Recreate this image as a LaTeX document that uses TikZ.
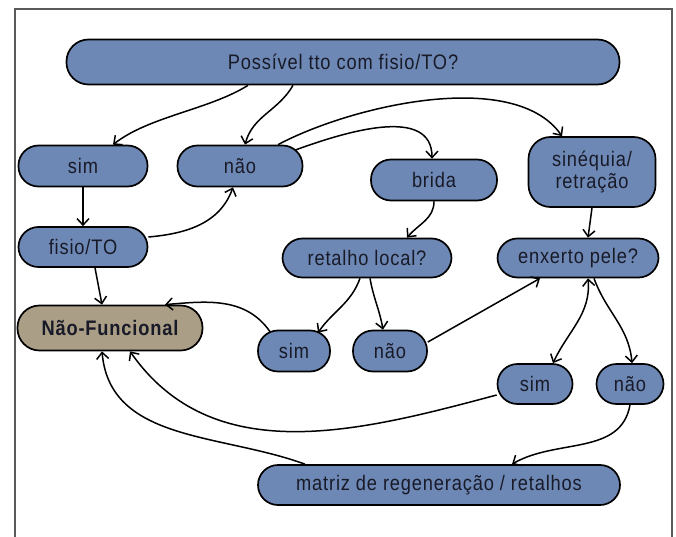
\documentclass[tikz,border=0pt]{standalone}
\usepackage{fontspec}
\setmainfont{Liberation Sans}[FakeStretch=0.87,LetterSpace=4]
\usetikzlibrary{arrows.meta}
\definecolor{boxblue}{RGB}{110,136,181}
\definecolor{boxtan}{RGB}{170,158,134}
\definecolor{txt}{RGB}{24,26,40}
\definecolor{framegray}{RGB}{90,90,90}
\tikzset{
  pill/.style={draw=black, line width=1.7pt, fill=boxblue, rounded corners=20pt,
    minimum height=41pt, inner sep=0pt, text=txt, font=\fontsize{21}{23}\selectfont},
  endbox/.style={pill, fill=boxtan, font=\fontsize{21}{23}\selectfont\bfseries},
  tip/.style={},
  link/.style={line width=1.5pt, -{Straight Barb[length=6.5pt,width=12pt,line width=1.5pt]}},
  twolink/.style={line width=1.5pt, {Straight Barb[length=6.5pt,width=12pt,line width=1.5pt]}-{Straight Barb[length=6.5pt,width=12pt,line width=1.5pt]}}
}
\begin{document}
\begin{tikzpicture}[x=1pt,y=1pt]
\useasboundingbox (0,0) rectangle (676,536);
% outer frame, open at the bottom
\draw[framegray, line width=2pt] (15,-5) -- (15,527) -- (672,527) -- (672,-5);

% boxes
\node[pill, minimum width=553pt, minimum height=45pt, rounded corners=22pt] (top) at (343,474) {Possível tto com fisio/TO?};
\node[pill, minimum width=129pt] (sim1) at (83,370) {sim};
\node[pill, minimum width=125pt] (nao1) at (240,370) {não};
\node[pill, minimum width=126pt] (brida) at (434,356) {brida};
\node[pill, minimum width=127pt, minimum height=70pt, rounded corners=22pt, align=center] (sineq) at (592,364) {sinéquia/\\[-1pt]retração};
\node[pill, minimum width=129pt, minimum height=40pt] (fisio) at (83,289) {fisio/TO};
\node[pill, minimum width=169pt, minimum height=39pt] (retalho) at (367,278) {retalho local?};
\node[pill, minimum width=161pt, minimum height=39pt] (enxerto) at (578,278) {enxerto pele?};
\node[endbox, minimum width=185pt, minimum height=45pt, rounded corners=22pt] (naofunc) at (110,208) {Não-Funcional};
\node[pill, minimum width=72pt] (sim2) at (294,185) {sim};
\node[pill, minimum width=74pt] (nao2) at (390,185) {não};
\node[pill, minimum width=75pt, minimum height=40pt] (sim3) at (535,152) {sim};
\node[pill, minimum width=67pt, minimum height=40pt] (nao3) at (630,152) {não};
\node[pill, minimum width=362pt, minimum height=40pt] (matriz) at (439,51) {matriz de regeneração / retalhos};

% connectors
\draw[link] ([xshift=-95]top.south) to[out=-148,in=38,looseness=0.8] ([xshift=30]sim1.north);
\draw[link] ([xshift=-50]top.south) to[out=-120,in=75] ([xshift=5]nao1.north);
\draw[link] ([xshift=38]nao1.north) to[out=28,in=125,looseness=0.75] ([xshift=-30]sineq.north);
\draw[link] ([xshift=-8,yshift=16]nao1.east) to[out=20,in=90] ([xshift=-2]brida.north);
\draw[link] (sim1.south) -- (fisio.north);
\draw[link] ([yshift=10]fisio.east) to[out=5,in=-110] ([xshift=-7]nao1.south);
\draw[link] ([xshift=12]fisio.south) -- ([xshift=-8]naofunc.north);
\draw[link] (brida.south) to[out=-90,in=50] ([xshift=40]retalho.north);
\draw[link] (sineq.south) -- ([xshift=10]enxerto.north);
\draw[link] ([xshift=-7]retalho.south) to[out=-110,in=55] ([xshift=24,yshift=-3]sim2.north);
\draw[link] ([xshift=3]retalho.south) to[out=-80,in=100] ([xshift=-7]nao2.north);
\draw[link] ([xshift=-24,yshift=-2]sim2.north) to[out=125,in=5] ([xshift=55]naofunc.north);
\draw[link] ([yshift=9]nao2.east) -- ([xshift=-38]enxerto.south);
\draw[twolink] ([xshift=10]enxerto.south) to[out=-85,in=65] ([xshift=18]sim3.north);
\draw[link] ([xshift=16]enxerto.south) to[out=-70,in=95] ([xshift=2]nao3.north);
\draw[link] ([yshift=-11]sim3.west) to[out=195,in=-55,looseness=1.0] ([xshift=20]naofunc.south);
\draw[link] ([xshift=-134]matriz.north) to[out=160,in=-85] ([xshift=-8]naofunc.south);
\draw[link] (nao3.south) to[out=-100,in=30] ([xshift=73]matriz.north);
\end{tikzpicture}
\end{document}
